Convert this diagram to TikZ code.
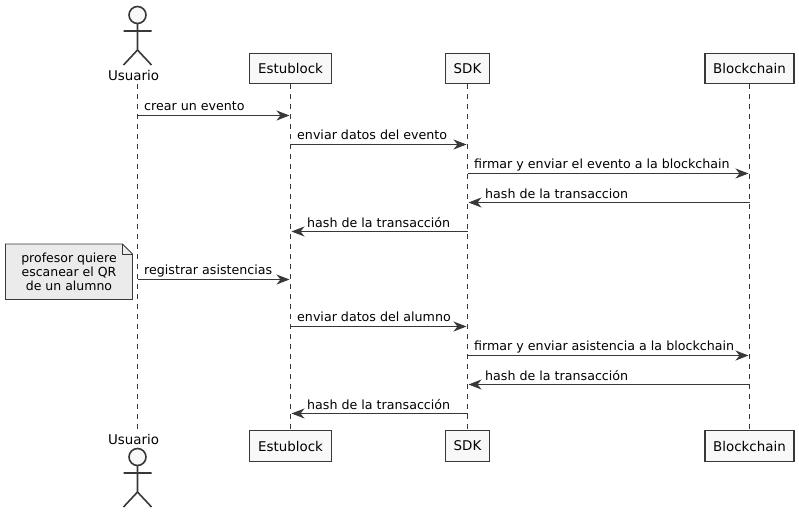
\documentclass[tikz,border=0pt]{standalone}
\usepackage{fontspec}
\setmainfont{DejaVu Sans}
\usetikzlibrary{arrows.meta}
\definecolor{ink}{HTML}{383838}
\definecolor{boxfill}{HTML}{F8F8F8}
\definecolor{notefill}{HTML}{EBEBEB}
\tikzset{
  x=1pt,y=-1pt,
  every node/.style={font=\fontsize{13.4}{15}\selectfont,text=black,inner sep=0pt},
  part/.style={draw=ink,fill=boxfill,line width=1.6pt,minimum height=30pt,anchor=center},
  life/.style={draw=ink,line width=1pt,dash pattern=on 5pt off 5pt},
  msg/.style={draw=ink,line width=1pt,-{Stealth[length=13pt,width=10pt,inset=4pt,color=ink]},shorten >=1pt},
  mlabel/.style={font=\fontsize{12.65}{15}\selectfont,anchor=base west},
  stick/.style={draw=ink,line width=1.6pt},
}
\newcommand{\actorfig}[2]{%
  \draw[stick,fill=boxfill] (#1,#2) circle[radius=8.5];
  \draw[stick] (#1,#2+8.5) -- (#1,#2+35) (#1-14,#2+16) -- (#1+14,#2+16)
    (#1-14,#2+50) -- (#1,#2+35) -- (#1+14,#2+50);
}
\begin{document}
\begin{tikzpicture}
\useasboundingbox (0,0) rectangle (799,513);
\coordinate (ua) at (137.5,84); \coordinate (ub) at (137.5,430);
\node[part,minimum width=82pt] (eT) at (290.5,68.5) {Estublock};
\node[part,minimum width=82pt,minimum height=31pt] (eB) at (290.5,446) {Estublock};
\node[part,minimum width=44pt] (sT) at (467.5,68.5) {SDK};
\node[part,minimum width=44pt,minimum height=31pt] (sB) at (467.5,446) {SDK};
\node[part,minimum width=89pt] (bT) at (749.5,68.5) {Blockchain};
\node[part,minimum width=89pt,minimum height=31pt] (bB) at (749.5,446) {Blockchain};
\draw[life] (ua) -- (ub);
\draw[life] (eT.south) -- (eB.north);
\draw[life] (sT.south) -- (sB.north);
\draw[life] (bT.south) -- (bB.north);
\actorfig{137.5}{15}
\node (uT) at (133.5,76) {Usuario};
\node (uB) at (133.5,439) {Usuario};
\actorfig{137.5}{457}
\draw[draw=ink,fill=notefill,line width=0.8pt] (5.5,244) -- (122.5,244) -- (132.5,254) -- (132.5,299.5) -- (5.5,299.5) -- cycle;
\draw[draw=ink,line width=0.8pt] (122.5,244) -- (122.5,254) -- (132.5,254);
\node[font=\fontsize{12.5}{14.2}\selectfont,align=center] (note) at (69,272) {profesor quiere\\escanear el QR\\de un alumno};
\foreach \n/\y in {1/115.5,2/144.5,3/173.5,4/202.5,5/231.5,6/279.5,7/326.5,8/355.5,9/384.5,10/413.5}{
  \coordinate (U\n) at (137.5,\y);
  \coordinate (E\n) at (290.5,\y);
  \coordinate (S\n) at (467.5,\y);
  \coordinate (B\n) at (749.5,\y);
}
\draw[msg] (U1) -- (E1);
\draw[msg] (E2) -- (S2);
\draw[msg] (S3) -- (B3);
\draw[msg] (B4) -- (S4);
\draw[msg] (S5) -- (E5);
\draw[msg] (U6) -- (E6);
\draw[msg] (E7) -- (S7);
\draw[msg] (S8) -- (B8);
\draw[msg] (B9) -- (S9);
\draw[msg] (S10) -- (E10);
\node[mlabel] (m1) at (144,110.5) {crear un evento};
\node[mlabel] (m2) at (297,139.5) {enviar datos del evento};
\node[mlabel] (m3) at (474,168.5) {firmar y enviar el evento a la blockchain};
\node[mlabel] (m4) at (485,198.5) {hash de la transaccion};
\node[mlabel] (m5) at (307,227.5) {hash de la transacción};
\node[mlabel] (m6) at (144,274.5) {registrar asistencias};
\node[mlabel] (m7) at (297,321.5) {enviar datos del alumno};
\node[mlabel] (m8) at (474,350.5) {firmar y enviar asistencia a la blockchain};
\node[mlabel] (m9) at (485,380.5) {hash de la transacción};
\node[mlabel] (m10) at (307,409.5) {hash de la transacción};
\end{tikzpicture}
\end{document}
